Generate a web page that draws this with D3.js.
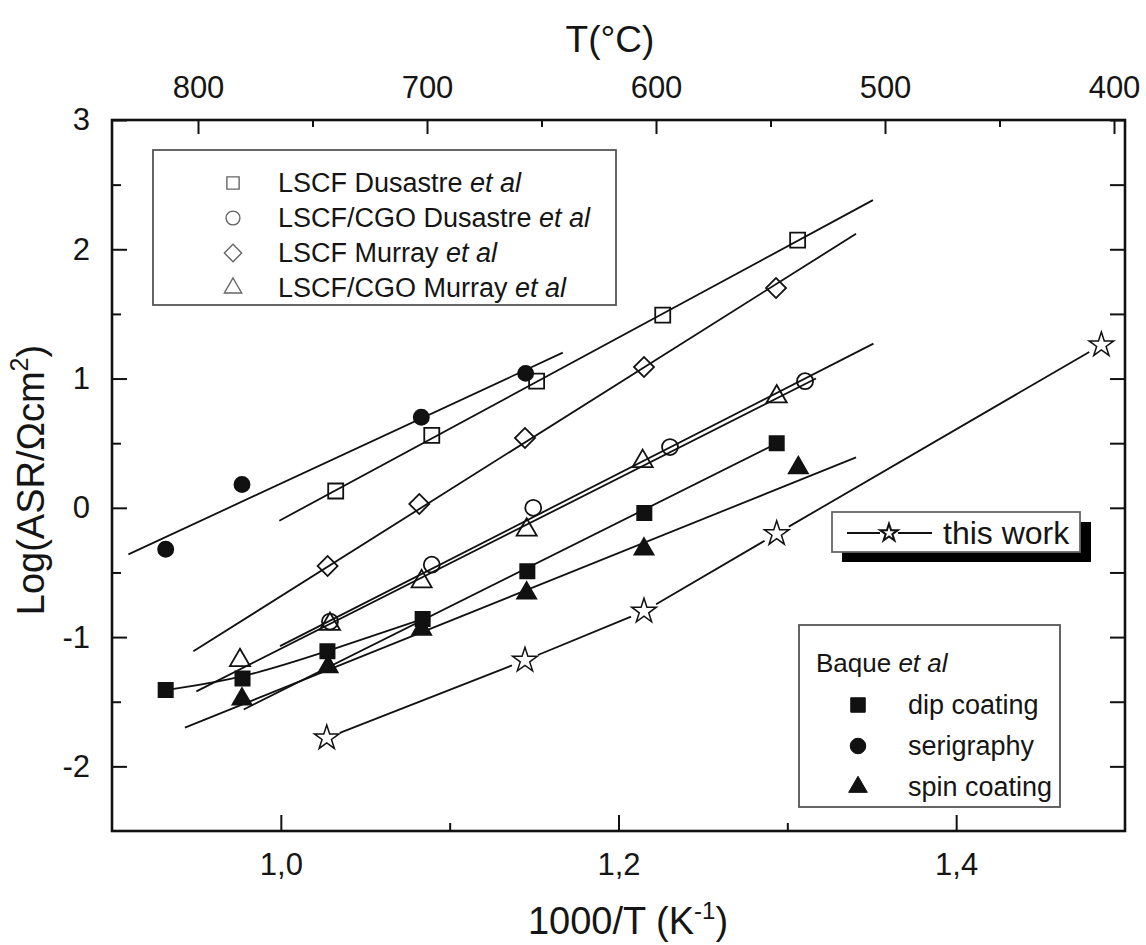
<!DOCTYPE html>
<html><head><meta charset="utf-8">
<script src="https://cdn.jsdelivr.net/npm/d3@7"></script>
<style>
html,body{margin:0;padding:0;background:#fff;}
svg{display:block;font-family:"Liberation Sans",Arial,Helvetica,sans-serif;}
</style></head><body>
<svg id="chart" width="1146" height="945"></svg>
<script>
// x = 1000/T (K^-1), y = log(ASR / Ohm cm2)

// LSCF, Dusastre et al (open squares)
const lscfDusastreX = [1.0325, 1.0894, 1.1515, 1.2262, 1.3061];
const lscfDusastreY = [0.13, 0.56, 0.98, 1.49, 2.07];
// LSCF/CGO, Dusastre et al (open circles)
const cgoDusastreX = [1.0291, 1.0894, 1.1495, 1.2305, 1.3105];
const cgoDusastreY = [-0.88, -0.44, 0.00, 0.47, 0.98];
// LSCF, Murray et al (open diamonds)
const lscfMurrayX = [1.0277, 1.0820, 1.1446, 1.2151, 1.2933];
const lscfMurrayY = [-0.45, 0.03, 0.54, 1.09, 1.70];
// LSCF/CGO, Murray et al (open triangles)
const cgoMurrayX = [0.9758, 1.0291, 1.0834, 1.1456, 1.2143, 1.2937];
const cgoMurrayY = [-1.18, -0.90, -0.57, -0.17, 0.36, 0.86];
// Baque et al: dip coating, serigraphy, spin coating (filled)
const dipX = [0.9318, 0.9773, 1.0276, 1.0840, 1.1460, 1.2153, 1.2937];
const dipY = [-1.41, -1.32, -1.11, -0.86, -0.49, -0.04, 0.50];
const serigraphyX = [0.9318, 0.9770, 1.0832, 1.1450];
const serigraphyY = [-0.32, 0.18, 0.70, 1.04];
const spinX = [0.9770, 1.0280, 1.0834, 1.1456, 1.2151, 1.3065];
const spinY = [-1.48, -1.23, -0.94, -0.66, -0.32, 0.31];
// this work (open stars, joined)
const thisWorkX = [1.0272, 1.1446, 1.2151, 1.2937, 1.4860];
const thisWorkY = [-1.78, -1.18, -0.80, -0.20, 1.26];

// straight fit lines: [x start, y start, x end, y end]
const fitSerigraphy   = [0.9097, -0.36, 1.167, 1.20];
const fitLscfDusastre = [0.9991, -0.10, 1.3507, 2.38];
const fitLscfMurray   = [0.9482, -1.11, 1.3407, 2.12];
const fitCgoDusastre  = [0.9995, -1.07, 1.351, 1.27];
const fitCgoMurray    = [0.9500, -1.42, 1.317, 1.00];
const fitSpin         = [0.9432, -1.70, 1.3407, 0.39];
const fitDip          = [0.9780, -1.56, 1.294, 0.50];
// smooth link over the first four dip-coating points
const dipCurveCount = 4;

// axes
const xDomain = [0.9, 1.5];
const yDomain = [-2.5, 3];
const xMajorTicks = [1.0, 1.2, 1.4];
const xMinorTicks = [1.1, 1.3];
const yMajorTicks = [-2, -1, 0, 1, 2, 3];
const yMinorTicks = [-1.5, -0.5, 0.5, 1.5, 2.5];
const tempMajorTicks = [800, 700, 600, 500, 400];
const tempMinorTicks = [750, 650, 550, 450];

const legendRefs = [
  {name: "LSCF Dusastre ", it: "et al", sym: "square"},
  {name: "LSCF/CGO Dusastre ", it: "et al", sym: "circle"},
  {name: "LSCF Murray ", it: "et al", sym: "diamond"},
  {name: "LSCF/CGO Murray ", it: "et al", sym: "triangle"}
];
const legendBaque = [
  {name: "dip coating", sym: "square"},
  {name: "serigraphy", sym: "circle"},
  {name: "spin coating", sym: "triangle"}
];

// ---- drawing ----
const svg = d3.select("#chart");
svg.append("rect").attr("width", 1146).attr("height", 945).attr("fill", "#fff");

const L = 112, R = 1125, T = 120, B = 831;
const x = d3.scaleLinear().domain(xDomain).range([L, R]);
const y = d3.scaleLinear().domain(yDomain).range([B, T]);
const tC = d3.scaleLinear().domain([800, 400]).range([198, 1114]);

const ink = "#111";
const txt = "#151515";
const symType = {square: d3.symbolSquare, circle: d3.symbolCircle, diamond: d3.symbolSquare, triangle: d3.symbolTriangle, star: d3.symbolStar};
const symSize = {square: 225, circle: 200, diamond: 200, triangle: 175, star: 190};
const baqueSize = {square: 210, circle: 190, triangle: 150};
function sym(sel, kind, size, fill, stroke, sw) {
  sel.append("path")
    .attr("d", d3.symbol(symType[kind], size)())
    .attr("transform", kind === "diamond" ? "rotate(45)" : null)
    .attr("fill", fill).attr("stroke", stroke).attr("stroke-width", sw);
}

// axes (ticks inside the frame)
const fmtX = d => d3.format(".1f")(d).replace(".", ",");
svg.append("g").attr("transform", `translate(0,${B})`)
  .call(d3.axisBottom(x).tickValues(xMajorTicks).tickSize(-16).tickPadding(22).tickFormat(fmtX));
svg.append("g").attr("transform", `translate(0,${B})`)
  .call(d3.axisBottom(x).tickValues(xMinorTicks).tickSize(-8).tickFormat(""));
svg.append("g").attr("transform", `translate(0,${T})`)
  .call(d3.axisTop(tC).tickValues(tempMajorTicks).tickSize(-14).tickPadding(22).tickFormat(d3.format("d")));
svg.append("g").attr("transform", `translate(0,${T})`)
  .call(d3.axisTop(tC).tickValues(tempMinorTicks).tickSize(-7).tickFormat(""));
const axL = svg.append("g").attr("transform", `translate(${L},0)`)
  .call(d3.axisLeft(y).tickValues(yMajorTicks).tickSize(-15).tickPadding(22).tickFormat(d3.format("d")));
svg.append("g").attr("transform", `translate(${L},0)`)
  .call(d3.axisLeft(y).tickValues(yMinorTicks).tickSize(-9).tickFormat(""));
svg.append("g").attr("transform", `translate(${R},0)`)
  .call(d3.axisRight(y).tickValues(yMajorTicks.concat(yMinorTicks)).tickSize(-15).tickFormat(""));
svg.selectAll(".domain").remove();
svg.selectAll(".tick line").attr("stroke", ink).attr("stroke-width", 2);
svg.selectAll(".tick text").attr("fill", txt).attr("font-size", 31)
  .attr("font-family", "'Liberation Sans', Arial, sans-serif");
axL.selectAll(".tick text").text(d => d < 0 ? "-" + Math.abs(d) : d);

// frame
svg.append("rect").attr("x", L).attr("y", T).attr("width", R - L).attr("height", B - T)
  .attr("fill", "none").attr("stroke", ink).attr("stroke-width", 2.6);

// axis titles
svg.append("text").attr("x", 610).attr("y", 52).attr("text-anchor", "middle")
  .attr("font-size", 37).attr("fill", txt).text("T(°C)");
const xt = svg.append("text").attr("x", 628).attr("y", 934).attr("text-anchor", "middle")
  .attr("font-size", 38).attr("fill", txt);
xt.append("tspan").text("1000/T (K");
xt.append("tspan").attr("dy", -15).attr("font-size", 24).text("-1");
xt.append("tspan").attr("dy", 15).text(")");
const yt = svg.append("text").attr("transform", "translate(44,480) rotate(-90)")
  .attr("text-anchor", "middle").attr("font-size", 38).attr("fill", txt);
yt.append("tspan").text("Log(ASR/Ωcm");
yt.append("tspan").attr("dy", -16).attr("font-size", 25).text("2");
yt.append("tspan").attr("dy", 16).text(")");

// plot content
const plot = svg.append("g");
const lineStroke = 1.8;
function fit(f) {
  plot.append("line").attr("x1", x(f[0])).attr("y1", y(f[1])).attr("x2", x(f[2])).attr("y2", y(f[3]))
    .attr("stroke", ink).attr("stroke-width", lineStroke);
}
[fitSerigraphy, fitLscfDusastre, fitLscfMurray, fitCgoDusastre, fitCgoMurray, fitSpin, fitDip].forEach(fit);

// dip coating: smooth link over the low-temperature points
plot.append("path")
  .attr("d", d3.line().curve(d3.curveBasis).x(d => x(d[0])).y(d => y(d[1]))(
    dipX.slice(0, dipCurveCount).map((v, i) => [v, dipY[i]])))
  .attr("fill", "none").attr("stroke", ink).attr("stroke-width", lineStroke);

// this work: joined points with a gap around each symbol
const twPts = thisWorkX.map((v, i) => [x(v), y(thisWorkY[i])]);
const gap = 14;
for (let i = 0; i < twPts.length - 1; i++) {
  const p = twPts[i], q = twPts[i + 1];
  const dx = q[0] - p[0], dy = q[1] - p[1], len = Math.hypot(dx, dy);
  const ux = dx / len, uy = dy / len;
  plot.append("line")
    .attr("x1", p[0] + ux * gap).attr("y1", p[1] + uy * gap)
    .attr("x2", q[0] - ux * gap).attr("y2", q[1] - uy * gap)
    .attr("stroke", ink).attr("stroke-width", lineStroke);
}

function points(xs, ys, kind, filled) {
  xs.forEach((v, i) => {
    const g = plot.append("g").attr("transform", `translate(${x(v)},${y(ys[i])})`);
    sym(g, kind, filled ? symSize[kind] * 0.9 : symSize[kind], filled ? ink : "none", ink, 1.8);
  });
}
points(lscfDusastreX, lscfDusastreY, "square", false);
points(cgoDusastreX, cgoDusastreY, "circle", false);
points(lscfMurrayX, lscfMurrayY, "diamond", false);
points(cgoMurrayX, cgoMurrayY, "triangle", false);
points(dipX, dipY, "square", true);
points(serigraphyX, serigraphyY, "circle", true);
points(spinX, spinY, "triangle", true);
thisWorkX.forEach((v, i) => {
  const g = plot.append("g").attr("transform", `translate(${x(v)},${y(thisWorkY[i])})`);
  sym(g, "star", symSize.star, "#fff", ink, 1.5);
});

// legend: literature data
const lg1 = svg.append("g");
lg1.append("rect").attr("x", 153).attr("y", 150).attr("width", 463).attr("height", 155)
  .attr("fill", "#fff").attr("stroke", "#555").attr("stroke-width", 1.8);
legendRefs.forEach((d, i) => {
  const cy = 183 + i * 35;
  const g = lg1.append("g").attr("transform", `translate(233,${cy})`);
  sym(g, d.sym, d.sym === "triangle" ? 130 : 150, "none", "#666", 1.4);
  const t = lg1.append("text").attr("x", 278).attr("y", cy).attr("dy", "0.35em")
    .attr("font-size", 27).attr("fill", txt);
  t.append("tspan").text(d.name);
  t.append("tspan").attr("font-style", "italic").text(d.it);
});

// legend: this work (with drop shadow)
const lg2 = svg.append("g");
lg2.append("rect").attr("x", 842).attr("y", 522).attr("width", 249).attr("height", 40).attr("fill", "#000");
lg2.append("rect").attr("x", 832).attr("y", 512).attr("width", 248).attr("height", 40)
  .attr("fill", "#fff").attr("stroke", "#666").attr("stroke-width", 1.8);
lg2.append("line").attr("x1", 847).attr("x2", 880).attr("y1", 533).attr("y2", 533).attr("stroke", ink).attr("stroke-width", 1.8);
lg2.append("line").attr("x1", 898).attr("x2", 932).attr("y1", 533).attr("y2", 533).attr("stroke", ink).attr("stroke-width", 1.8);
sym(lg2.append("g").attr("transform", "translate(889,533)"), "star", 95, "#fff", ink, 2);
lg2.append("text").attr("x", 943).attr("y", 544).attr("font-size", 32).attr("fill", txt).text("this work");

// legend: Baque et al
const lg3 = svg.append("g");
lg3.append("rect").attr("x", 799).attr("y", 625).attr("width", 261).attr("height", 182)
  .attr("fill", "#fff").attr("stroke", "#555").attr("stroke-width", 1.8);
const bq = lg3.append("text").attr("x", 816).attr("y", 663).attr("dy", "0.35em").attr("font-size", 26).attr("fill", txt);
bq.append("tspan").text("Baque ");
bq.append("tspan").attr("font-style", "italic").text("et al");
legendBaque.forEach((d, i) => {
  const cy = 705 + i * 41;
  sym(lg3.append("g").attr("transform", `translate(858,${cy})`), d.sym, baqueSize[d.sym], ink, ink, 1);
  lg3.append("text").attr("x", 908).attr("y", cy).attr("dy", "0.35em").attr("font-size", 27)
    .attr("fill", txt).text(d.name);
});
</script>
</body></html>
